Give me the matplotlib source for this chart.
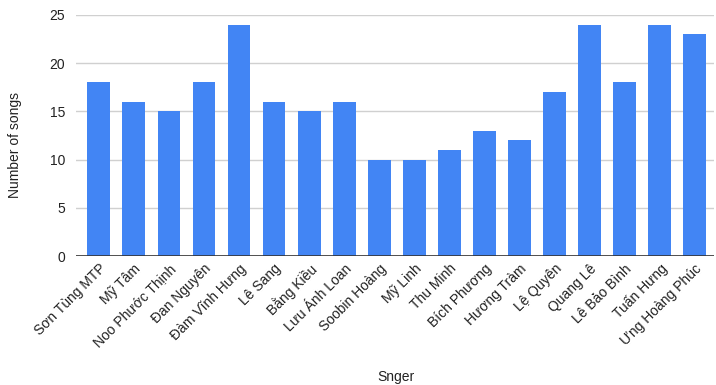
import matplotlib
matplotlib.use("Agg")
import matplotlib.pyplot as plt

singers = ["Sơn Tùng MTP", "Mỹ Tâm", "Noo Phước Thịnh", "Đan Nguyên", "Đàm Vĩnh Hưng",
           "Lê Sang", "Bằng Kiều", "Lưu Ánh Loan", "Soobin Hoàng", "Mỹ Linh", "Thu Minh",
           "Bích Phương", "Hương Tràm", "Lệ Quyên", "Quang Lê", "Lê Bảo Bình",
           "Tuấn Hưng", "Ưng Hoàng Phúc"]
songs = [18, 16, 15, 18, 24, 16, 15, 16, 10, 10, 11, 13, 12, 17, 24, 18, 24, 23]
y_ticks = [0, 5, 10, 15, 20, 25]

plt.rcParams["font.family"] = ["Liberation Sans", "DejaVu Sans"]

fig = plt.figure(figsize=(7.16, 3.85), dpi=100)
ax = fig.add_axes([76 / 716, 129 / 385, 638 / 716, 241 / 385])

x = list(range(len(singers)))
ax.bar(x, songs, width=0.65, color="#4285F4", zorder=3)

ax.set_ylim(0, 25)
ax.set_xlim(-0.65, len(singers) - 0.45)
ax.set_yticks(y_ticks)
ax.set_yticklabels([str(v) for v in y_ticks], fontsize=10, color="#222222")
ax.yaxis.grid(True, color="#d0d0d0", linewidth=1, zorder=0)
ax.axhline(0, color="#333333", linewidth=1.2, zorder=4)
ax.tick_params(axis="y", length=0, pad=8)
ax.tick_params(axis="x", length=0, pad=4)

ax.set_xticks(x)
ax.set_xticklabels(singers, rotation=45, ha="right", rotation_mode="anchor",
                   fontsize=10, color="#222222")

for s in ax.spines.values():
    s.set_visible(False)

fig.text(15 / 716, 1 - 145 / 385, "Number of songs", rotation=90, ha="center",
         va="center", fontsize=10, color="#222222")
fig.text(396 / 716, 1 - 377 / 385, "Snger", ha="center", va="center",
         fontsize=10, color="#222222")

fig.savefig("out.png", dpi=100)
